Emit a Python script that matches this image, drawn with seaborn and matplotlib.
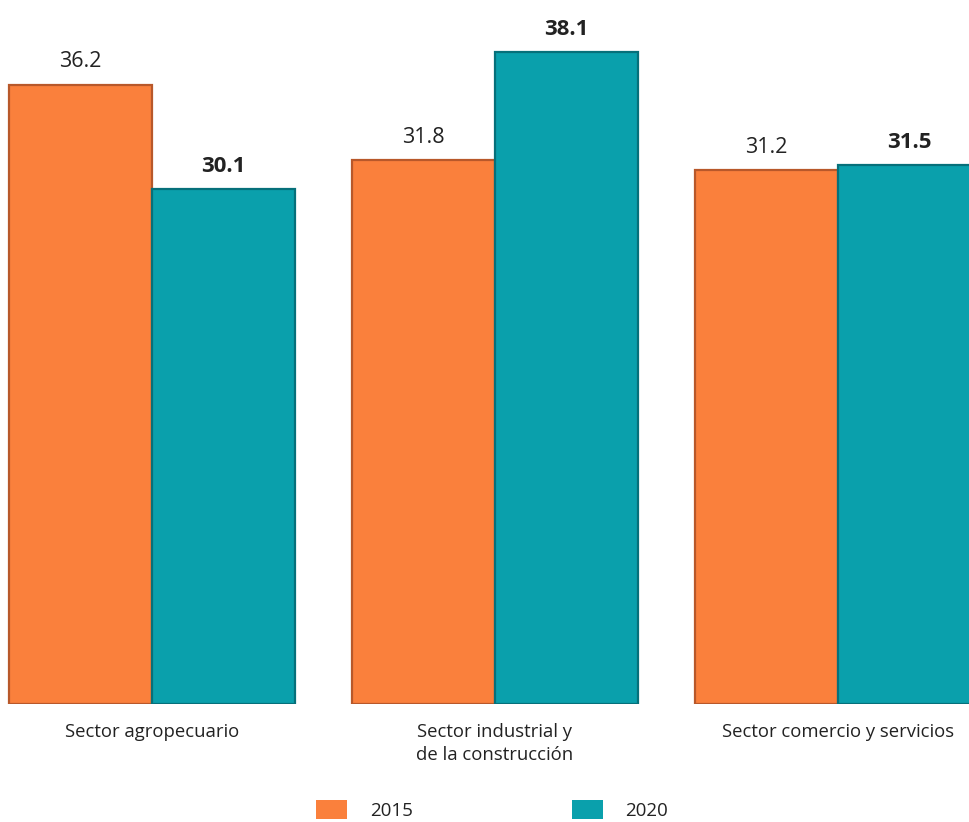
import pandas as pd
import matplotlib.pyplot as plt
import seaborn as sns
from matplotlib.patches import Patch

# Data
sectors = ["Sector agropecuario", "Sector industrial y\nde la construcción", "Sector comercio y servicios"]
years = ["2015", "2020"]
values_2015 = [36.2, 31.8, 31.2]
values_2020 = [30.1, 38.1, 31.5]

colors = {"2015": "#FA803C", "2020": "#0AA0AC"}
edges = {"2015": "#B8582A", "2020": "#06707A"}

df = pd.DataFrame({
    "sector": sectors * 2,
    "year": ["2015"] * 3 + ["2020"] * 3,
    "value": values_2015 + values_2020,
})

sns.set_style("white")
plt.rcParams["font.family"] = ["Open Sans", "DejaVu Sans"]

fig = plt.figure(figsize=(9.69, 8.22), dpi=100)
ax = fig.add_axes([0, 0.1436, 1, 0.8564])

sns.barplot(data=df, x="sector", y="value", hue="year", hue_order=years,
            palette=colors, saturation=1, width=0.834, gap=0, ax=ax, legend=False)

# darker bevel-like edges
for container, yr in zip(ax.containers, years):
    for bar in container:
        bar.set_edgecolor(edges[yr])
        bar.set_linewidth(1.6)
    if yr == "2015":
        ax.bar_label(container, labels=[f"{v:.1f}" for v in container.datavalues],
                     padding=9, fontsize=15.5, color="#222222")
    else:
        ax.bar_label(container, labels=[f"{v:.1f}" for v in container.datavalues],
                     padding=9, fontsize=16, fontweight="bold", color="#222222")

ax.set_xlim(-0.443, 2.382)
ax.set_ylim(0, 41.17)
ax.set_xlabel("")
ax.set_ylabel("")
ax.set_yticks([])
ax.tick_params(axis="x", length=0, pad=14, labelsize=13.3, labelcolor="#222222")
for lbl in ax.get_xticklabels():
    lbl.set_linespacing(1.3)
sns.despine(ax=ax, left=True, bottom=True)

# legend below
handles = [Patch(facecolor=colors[y], edgecolor="none", label=y) for y in years]
fig.legend(handles=handles, loc="lower center", bbox_to_anchor=(0.508, -0.018),
           ncol=2, frameon=False, fontsize=13.5, handlelength=1.65, handleheight=1.15,
           handletextpad=1.2, columnspacing=8.5, labelcolor="#222222")

fig.savefig("out.png", dpi=100)
